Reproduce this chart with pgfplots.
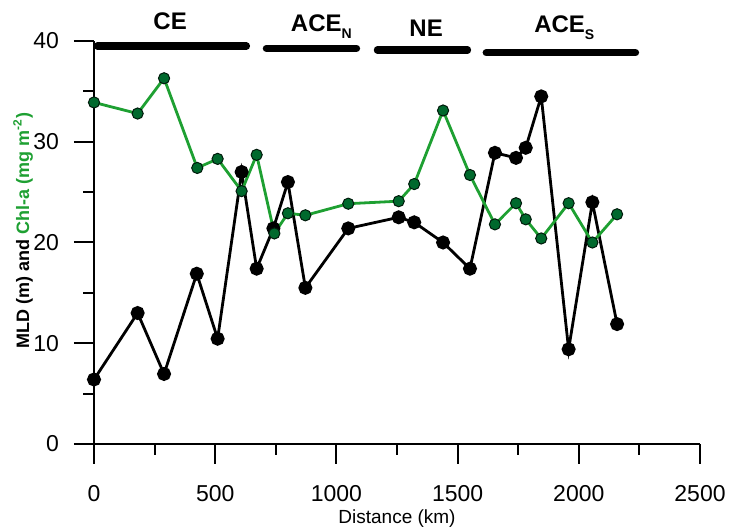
\documentclass[border=0pt]{standalone}
\usepackage{fontspec}
\setmainfont{Liberation Sans}
\usepackage{pgfplots}
\pgfplotsset{compat=1.18}
\definecolor{chlline}{RGB}{30,160,50}
\definecolor{chlmark}{RGB}{0,105,45}

\begin{document}
\begin{tikzpicture}
\begin{axis}[
  scale only axis, width=303pt, height=201.5pt,
  xmin=0, xmax=2500, ymin=0, ymax=40,
  axis lines*=left,
  axis line style={line width=1pt},
  xtick={0,500,...,2500}, ytick={0,10,...,40},
  tick align=outside,
  major tick length=10pt,
  major tick style={black, line width=1pt},
  /pgf/number format/assume math mode=true,
  /pgf/number format/1000 sep={},
  tick label style={font=\fontsize{11.5}{13}\selectfont},
  xticklabel style={yshift=-7pt},
  yticklabel style={xshift=-4pt},
  xlabel={Distance (km)},
  xlabel style={font=\fontsize{9.5}{11}\selectfont, at={(axis description cs:0.5,-0.184)}, anchor=center},
  ylabel={MLD (m) and \textcolor{chlline}{Chl-a (mg m\textsuperscript{-2})}},
  ylabel style={font=\bfseries\fontsize{9}{10}\selectfont, at={(axis description cs:-0.117,0.53)}, anchor=center},
  clip=false,
]
% minor ticks, outward, sitting on the axis lines
\addplot[ycomb, black, line width=1pt, no marks] coordinates {
  (250,-1.06) (750,-1.06) (1250,-1.06) (1750,-1.06) (2250,-1.06)};
\addplot[xcomb, black, line width=1pt, no marks] coordinates {
  (-44,5) (-44,15) (-44,25) (-44,35)};
% MLD
\addplot[black, line width=1.4pt, mark=*, mark size=2.8pt, mark options={fill=black}] coordinates {
  (0,6.4) (180,13.0) (289,6.95) (424,16.9) (510,10.45) (609,27.0) (671,17.4)
  (740,21.4) (800,26.0) (872,15.5) (1049,21.4) (1257,22.5) (1321,22.0)
  (1440,20.0) (1551,17.4) (1654,28.9) (1741,28.4) (1781,29.4) (1845,34.5)
  (1958,9.4) (2056,24.0) (2158,11.9)};
% Chl-a
\addplot[chlline, line width=1.4pt, mark=*, mark size=2.8pt, mark options={fill=chlmark, draw=black!75!chlmark, line width=0.5pt}] coordinates {
  (0,33.9) (180,32.8) (289,36.3) (426,27.4) (510,28.3) (609,25.1) (671,28.7)
  (744,20.9) (800,22.9) (872,22.7) (1049,23.85) (1257,24.1) (1321,25.8)
  (1440,33.1) (1551,26.7) (1654,21.8) (1741,23.9) (1781,22.3) (1845,20.4)
  (1958,23.9) (2056,20.0) (2158,22.8)};
% region bars
\addplot[black, line width=3.6pt, line cap=round] coordinates {(14,39.5) (629,39.5)};
\addplot[black, line width=3.6pt, line cap=round] coordinates {(711,39.27) (1083,39.27)};
\addplot[black, line width=3.6pt, line cap=round] coordinates {(1169,39.1) (1541,39.1)};
\addplot[black, line width=3.6pt, line cap=round] coordinates {(1618,38.84) (2234,38.84)};
\begin{scope}[every node/.style={font=\bfseries\fontsize{12}{14}\selectfont, anchor=base, inner sep=0pt}]
\node at (axis cs:314,41.16) {CE};
\node at (axis cs:917,40.9) {ACE\rlap{\raisebox{-0.5ex}{\fontsize{7}{8}\selectfont N}}};
\node at (axis cs:1370,40.4) {NE};
\node at (axis cs:1921,40.82) {ACE\rlap{\raisebox{-0.5ex}{\fontsize{7}{8}\selectfont S}}};
\end{scope}
\end{axis}
\pgfresetboundingbox
\path[use as bounding box] ([shift={(-47pt,-44pt)}]current axis.south west) rectangle ([shift={(15.5pt,20.5pt)}]current axis.north east);
\end{tikzpicture}
\end{document}
